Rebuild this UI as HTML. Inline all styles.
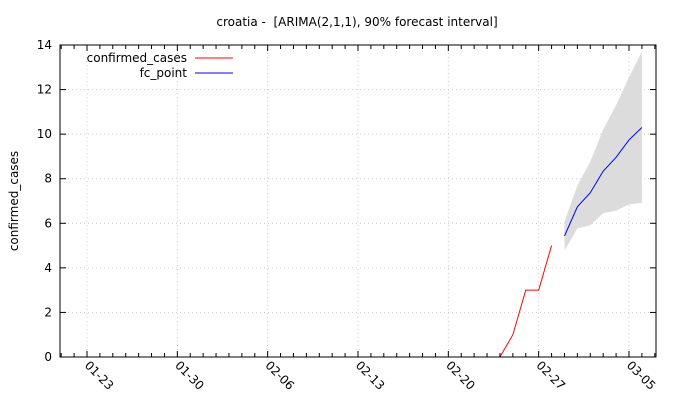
<!DOCTYPE html>
<html><head><meta charset="utf-8"><style>
body{margin:0;background:#fff}
svg text{font-family:"DejaVu Sans",sans-serif;font-size:12px;fill:#000}
</style></head><body>
<svg id="c" width="680" height="400" xmlns="http://www.w3.org/2000/svg">
<rect width="680" height="400" fill="#fff"/>
<text x="357" y="26" text-anchor="middle">croatia - &#160;[ARIMA(2,1,1), 90% forecast interval]</text>
<text transform="translate(18,201) rotate(-90)" text-anchor="middle">confirmed_cases</text>
<g id="grid"></g><g id="marks"></g><g id="axes"></g>
<g>
<text x="187" y="62" text-anchor="end">confirmed_cases</text>
<line x1="195" y1="58" x2="233" y2="58" stroke="#f00"/>
<text x="187" y="77" text-anchor="end">fc_point</text>
<line x1="195" y1="73" x2="233" y2="73" stroke="#00f"/>
</g>
</svg>
<script>
const xTickLabels=["01-23","01-30","02-06","02-13","02-20","02-27","03-05"];
const xTickDays=[0,7,14,21,28,35,42];
const yTicks=[0,2,4,6,8,10,12,14];
const actualDays=[32,33,34,35,36];
const actualValues=[0,1,3,3,5];
const fcDays=[37,38,39,40,41,42,43];
const fcPoint=[5.43,6.74,7.37,8.34,8.96,9.74,10.3];
const fcUpper=[6.07,7.69,8.76,10.21,11.3,12.55,13.7];
const fcLower=[4.77,5.77,5.91,6.45,6.56,6.85,6.92];

const L=60,R=656,T=45,B=357;
const x=d=>87+d*(629-87)/42;
const y=v=>B-(v/14)*(B-T);
const NS="http://www.w3.org/2000/svg";
function mk(tag,attrs,parent){const e=document.createElementNS(NS,tag);for(const k in attrs)e.setAttribute(k,attrs[k]);document.getElementById(parent).appendChild(e);return e;}

yTicks.forEach(v=>{
  if(v>0&&v<14){const g=mk('line',{x1:L,x2:R,y1:y(v),y2:y(v),stroke:'#ccc','stroke-dasharray':'1,3'},'grid');
  
  }
  const t=mk('line',{x1:L,x2:L+6,y1:y(v),y2:y(v),stroke:'#000'},'axes');
  
  
  const t2=mk('line',{x1:R-6,x2:R,y1:y(v),y2:y(v),stroke:'#000'},'axes');
  
  
  const lb=mk('text',{x:52,y:y(v)+4,'text-anchor':'end'},'axes');lb.textContent=v;
  
  
});
xTickDays.forEach((d,i)=>{
  const g=mk('line',{x1:x(d),x2:x(d),y1:T,y2:B,stroke:'#ccc','stroke-dasharray':'1,3'},'grid');
  
  
  const lb=mk('text',{transform:`translate(${x(d)-3},${B+9}) rotate(45)`},'axes');lb.textContent=xTickLabels[i];
  
  
});
for(let d=-2;d<=44;d++){
  const len=xTickDays.includes(d)?6:4;
  const t=mk('line',{x1:x(d),x2:x(d),y1:B,y2:B-len,stroke:'#000'},'axes');
  
  
  const t2=mk('line',{x1:x(d),x2:x(d),y1:T,y2:T+len,stroke:'#000'},'axes');
  
  
}
const fr=mk('rect',{x:L,y:T,width:R-L,height:B-T,fill:'none',stroke:'#000'},'axes');



let band=fcDays.map((d,i)=>`${x(d)},${y(fcUpper[i])}`).concat(fcDays.slice().reverse().map((d,j)=>{const i=fcDays.length-1-j;return `${x(d)},${y(fcLower[i])}`;}));
const bp=mk('polygon',{points:band.join(' '),fill:'#dcdcdc'},'marks');


const ap=mk('polyline',{points:actualDays.map((d,i)=>`${x(d)},${y(actualValues[i])}`).join(' '),fill:'none',stroke:'#f00'},'marks');


const fp=mk('polyline',{points:fcDays.map((d,i)=>`${x(d)},${y(fcPoint[i])}`).join(' '),fill:'none',stroke:'#00f'},'marks');


</script>
</body></html>
